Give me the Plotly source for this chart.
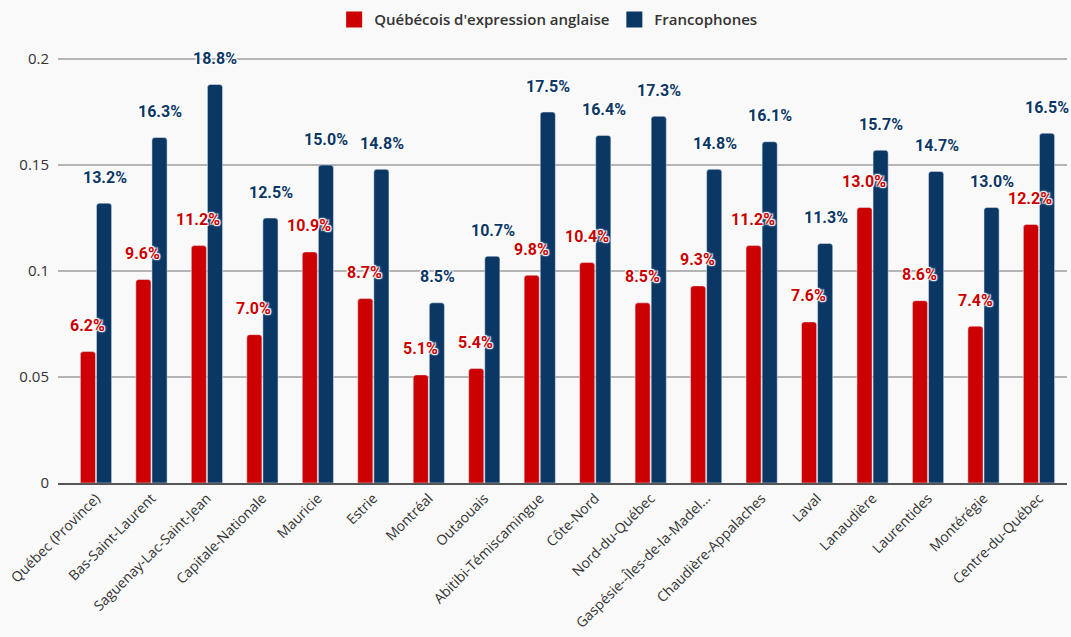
import plotly.graph_objects as go

regions = [
    "Québec (Province)", "Bas-Saint-Laurent", "Saguenay-Lac-Saint-Jean",
    "Capitale-Nationale", "Mauricie", "Estrie", "Montréal", "Outaouais",
    "Abitibi-Témiscamingue", "Côte-Nord", "Nord-du-Québec",
    "Gaspésie--Îles-de-la-Madel...", "Chaudière-Appalaches", "Laval",
    "Lanaudière", "Laurentides", "Montérégie", "Centre-du-Québec",
]
anglophones = [0.062, 0.096, 0.112, 0.070, 0.109, 0.087, 0.051, 0.054, 0.098,
               0.104, 0.085, 0.093, 0.112, 0.076, 0.130, 0.086, 0.074, 0.122]
francophones = [0.132, 0.163, 0.188, 0.125, 0.150, 0.148, 0.085, 0.107, 0.175,
                0.164, 0.173, 0.148, 0.161, 0.113, 0.157, 0.147, 0.130, 0.165]
series_names = ["Québécois d'expression anglaise", "Francophones"]

RED = "#cc0000"
BLUE = "#0b3765"
halo = ("1px 1px 1px white, -1px -1px 1px white, 1px -1px 1px white, "
        "-1px 1px 1px white, 0 0 3px white")

fig = go.Figure()
for name, values, color in zip(series_names, (anglophones, francophones), (RED, BLUE)):
    fig.add_bar(name=name, x=regions, y=values, marker_color=color,
                showlegend=False, hoverinfo="x+y")
    # square legend swatch
    fig.add_scatter(name=name, x=[None], y=[None], mode="markers",
                    marker=dict(symbol="square", size=17, color=color),
                    showlegend=True)

annotations = []
for values, color, dx in ((anglophones, RED, -8.5), (francophones, BLUE, 8.5)):
    for cat, v in zip(regions, values):
        annotations.append(dict(
            x=cat, y=v, xref="x", yref="y", text=f"{v * 100:.1f}%",
            showarrow=False, xshift=dx, yshift=26,
            font=dict(family="Roboto", size=16, color=color, weight="bold",
                      shadow=halo),
        ))

fig.update_layout(
    width=1071, height=637,
    margin=dict(l=58, r=4, t=40, b=154, autoexpand=False),
    paper_bgcolor="#f9f9f9", plot_bgcolor="#f9f9f9",
    barmode="group", bargap=0.42, bargroupgap=0.06, barcornerradius=3,
    font=dict(family="Open Sans", size=14, color="#333333"),
    legend=dict(orientation="h", x=0.312, xanchor="left", y=0.995, yanchor="top",
                xref="container", yref="container",
                font=dict(family="Open Sans", size=15, color="#333333", weight=600),
                itemwidth=30, tracegroupgap=0),
    annotations=annotations,
    xaxis=dict(tickangle=-45, showgrid=False, linecolor="#555555", linewidth=1.5,
               range=[-0.685, 17.505],
               tickfont=dict(family="Open Sans", size=14, color="#333333"),
               ticks=""),
    yaxis=dict(range=[0, 0.209], tickvals=[0, 0.05, 0.1, 0.15, 0.2],
               ticktext=["0", "0.05", "0.1", "0.15", "0.2"],
               gridcolor="#b4b4b4", gridwidth=1.5, zeroline=False,
               tickfont=dict(family="Open Sans", size=15, color="#333333"),
               ticklabelstandoff=8),
)

fig.write_html("out.html")
